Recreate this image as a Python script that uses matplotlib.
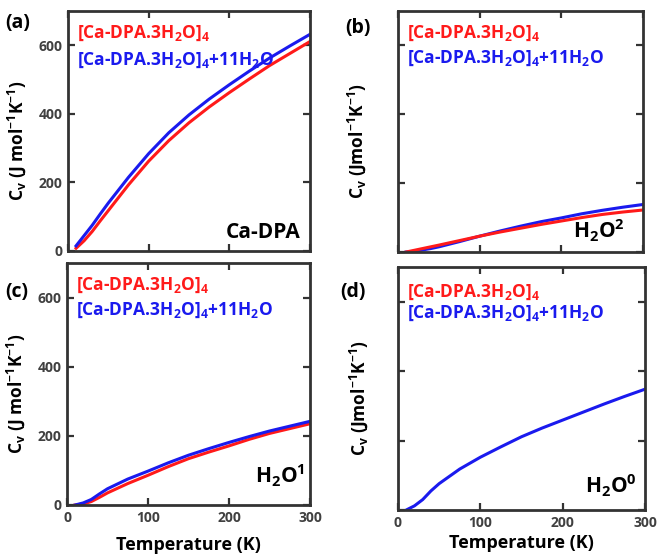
import matplotlib
matplotlib.use("Agg")
import matplotlib.pyplot as plt

plt.rcParams['font.family'] = ['Open Sans', 'DejaVu Sans']
plt.rcParams['font.weight'] = 'bold'
plt.rcParams['mathtext.fontset'] = 'custom'
plt.rcParams['mathtext.rm'] = 'Open Sans:bold'
plt.rcParams['mathtext.it'] = 'Open Sans:bold'
plt.rcParams['mathtext.bf'] = 'Open Sans:bold'
plt.rcParams['axes.unicode_minus'] = False

# Temperature grid (K)
temp = [10, 20, 30, 40, 50, 75, 100, 125, 150, 175, 200, 225, 250, 275, 300]

# (a) Ca-DPA
a_red = [8, 30, 57, 88, 118, 193, 262, 322, 374, 420, 462, 502, 541, 576, 611]
a_blue = [15, 45, 75, 108, 140, 215, 284, 345, 397, 443, 485, 525, 563, 598, 632]
# (b) H2O^2
b_red = [0, 5, 10, 15, 20, 33, 46, 58, 69, 80, 90, 100, 109, 116, 122]
b_blue = [0, 2, 6, 10, 15, 30, 46, 61, 75, 88, 99, 111, 121, 130, 138]
# (c) H2O^1
c_red = [0, 3, 10, 22, 35, 62, 86, 111, 134, 153, 171, 190, 207, 221, 235]
c_blue = [0, 6, 16, 32, 47, 75, 98, 122, 144, 163, 181, 198, 214, 228, 242]
# (d) H2O^0
d_blue = [0, 12, 30, 55, 76, 118, 152, 182, 211, 236, 259, 282, 305, 327, 348]

label_red = r'[Ca-DPA.3H$_2$O]$_4$'
label_blue = r'[Ca-DPA.3H$_2$O]$_4$+11H$_2$O'
ylab_ac = r'C$_v$ (J mol$^{-1}$K$^{-1}$)'
ylab_bd = r'C$_v$ (Jmol$^{-1}$K$^{-1}$)'
xticks = [0, 100, 200, 300]
yticks = [0, 200, 400, 600]

W, H = 657, 558
fig = plt.figure(figsize=(W / 100, H / 100), dpi=100)

def add_ax(l, r, t, b):
    return fig.add_axes([l / W, 1 - b / H, (r - l) / W, (b - t) / H])

ax_a = add_ax(68, 310, 11, 251)
ax_b = add_ax(398, 643, 11, 252)
ax_c = add_ax(67, 310, 263, 505)
ax_d = add_ax(398, 645, 267, 510)

RED = '#ff1a1a'
BLUE = '#1a1aee'
SPINE = '#333333'

def style(ax, xlab, ylab, ylab_text, lx, xpad=8):
    ax.set_xlim(0, 300)
    ax.set_ylim(0, 700)
    ax.set_xticks(xticks)
    ax.set_yticks(yticks)
    ax.tick_params(direction='in', length=5, width=1.6, color=SPINE,
                   top=True, right=True, labelsize=10, labelcolor='#404040',
                   pad=4)
    for lab in ax.get_xticklabels() + ax.get_yticklabels():
        lab.set_fontweight('bold')
    if not xlab:
        ax.set_xticklabels([])
    else:
        ax.set_xlabel('Temperature (K)', fontsize=13, fontweight='bold', labelpad=xpad)
    if not ylab:
        ax.set_yticklabels([])
    ax.set_ylabel(ylab_text, fontsize=12.5, fontweight='bold')
    ax.yaxis.set_label_coords(lx, 0.46)
    for s in ax.spines.values():
        s.set_linewidth(2.0)
        s.set_color(SPINE)

def legend_text(ax, yr, yb):
    ax.text(0.037, yr, label_red, color=RED, fontsize=12.5, fontweight='bold',
            transform=ax.transAxes, va='baseline')
    ax.text(0.037, yb, label_blue, color=BLUE, fontsize=12.5, fontweight='bold',
            transform=ax.transAxes, va='baseline')

# (a)
ax_a.plot(temp, a_red, color=RED, lw=2.2)
ax_a.plot(temp, a_blue, color=BLUE, lw=2.2)
style(ax_a, False, True, ylab_ac, -0.165)
legend_text(ax_a, 0.887, 0.775)
ax_a.text(0.959, 0.054, 'Ca-DPA', fontsize=15, fontweight='bold', ha='right',
          va='baseline', transform=ax_a.transAxes)

# (b)
ax_b.plot(temp, b_blue, color=BLUE, lw=2.2)
ax_b.plot(temp, b_red, color=RED, lw=2.2)
style(ax_b, False, False, ylab_bd, -0.122)
legend_text(ax_b, 0.888, 0.784)
ax_b.text(0.927, 0.058, r'H$_2$O$^2$', fontsize=15, fontweight='bold', ha='right',
          va='baseline', transform=ax_b.transAxes)

# (c)
ax_c.plot(temp, c_red, color=RED, lw=2.2)
ax_c.plot(temp, c_blue, color=BLUE, lw=2.2)
style(ax_c, True, True, ylab_ac, -0.165, xpad=8)
legend_text(ax_c, 0.888, 0.785)
ax_c.text(0.979, 0.09, r'H$_2$O$^1$', fontsize=15, fontweight='bold', ha='right',
          va='baseline', transform=ax_c.transAxes)

# (d)
ax_d.plot(temp, d_blue, color=BLUE, lw=2.2)
style(ax_d, True, False, ylab_bd, -0.115, xpad=3)
legend_text(ax_d, 0.877, 0.79)
ax_d.text(0.968, 0.07, r'H$_2$O$^0$', fontsize=15, fontweight='bold', ha='right',
          va='baseline', transform=ax_d.transAxes)

# panel letters
fig.text(5 / W, 1 - 28 / H, '(a)', fontsize=14, fontweight='bold')
fig.text(345 / W, 1 - 33 / H, '(b)', fontsize=14, fontweight='bold')
fig.text(5 / W, 1 - 297 / H, '(c)', fontsize=14, fontweight='bold')
fig.text(340 / W, 1 - 297 / H, '(d)', fontsize=14, fontweight='bold')

fig.savefig('out.png', dpi=100)
